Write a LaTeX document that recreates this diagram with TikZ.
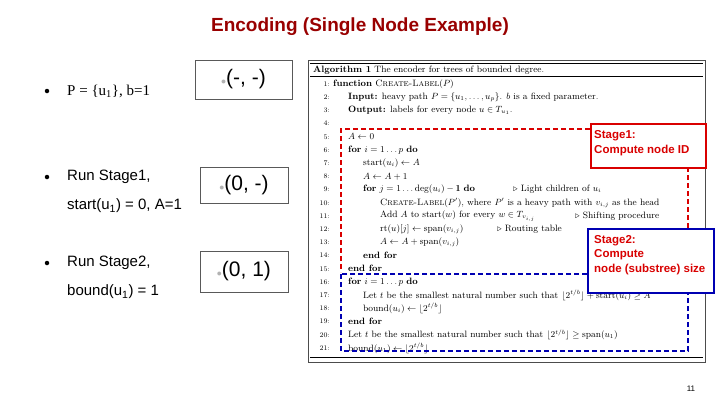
\documentclass[tikz,border=0pt]{standalone}
\usepackage{amsmath,amssymb}
\usepackage{fontspec}
\newfontfamily\arial{Liberation Sans}
\newfontfamily\timesfnt{Liberation Serif}
\begin{document}
\begin{tikzpicture}[x=1pt,y=-1pt,
  alg/.style={anchor=west,inner sep=0pt,font=\fontsize{9.2}{10}\selectfont},
  num/.style={anchor=east,inner sep=0pt,font=\fontsize{7}{8}\selectfont},
  lefttext/.style={anchor=west,inner sep=0pt,font=\arial\fontsize{15}{17}\selectfont},
  valbox/.style={draw=gray!70!black,line width=0.6pt,inner sep=0pt,font=\arial\fontsize{21}{23}\selectfont},
  bul/.style={circle,fill=black,inner sep=0pt,minimum size=4.5pt}]
\useasboundingbox (0,0) rectangle (720,405);
\fill[white] (0,0) rectangle (720,405);
\node[font=\arial\bfseries\fontsize{19}{22}\selectfont,text=red!60!black] (title) at (360,27) {Encoding (Single Node Example)};
% left bullets
\node[bul] (b1) at (47,91) {};
\node[bul] (b2) at (47,177) {};
\node[bul] (b3) at (47,263) {};
\node[lefttext,font=\timesfnt\fontsize{15}{17}\selectfont] (t1) at (67,91) {P = \{u\textsubscript{1}\}, b=1};
\node[lefttext] (t2) at (67,177) {Run Stage1,};
\node[lefttext] (t2b) at (67,206) {start(u\textsubscript{1}) = 0, A=1};
\node[lefttext] (t3) at (67,263) {Run Stage2,};
\node[lefttext] (t3b) at (67,292) {bound(u\textsubscript{1}) = 1};
\node[valbox,minimum width=97pt,minimum height=39pt] (v1) at (243.5,79.5) {{\color{gray!60}\fontsize{10}{10}\selectfont$\bullet$}(-, -)};
\node[valbox,minimum width=88pt,minimum height=36pt] (v2) at (244,185) {{\color{gray!60}\fontsize{10}{10}\selectfont$\bullet$}(0, -)};
\node[valbox,minimum width=88pt,minimum height=41pt] (v3) at (244,271.5) {{\color{gray!60}\fontsize{10}{10}\selectfont$\bullet$}(0, 1)};
% algorithm
\draw[gray!60!black,line width=0.7pt] (308,60) rectangle (705,362);
\draw[line width=0.6pt] (310,63) -- (703,63);
\draw[line width=0.4pt] (310,76) -- (703,76);
\draw[line width=0.4pt] (310,357) -- (703,357);
\node[alg] (h) at (313,70) {\textbf{Algorithm 1} The encoder for trees of bounded degree.};
\foreach \i in {1,...,21} \node[num] (n\i) at (330,{84+(\i-1)*13.2}) {\i:};
\node[alg] (l1) at (333,84) {\textbf{function} \textsc{Create-Label}$(P)$};
\node[alg] (l2) at (348,97.2) {\textbf{Input:} heavy path $P=\{u_1,\ldots,u_p\}$. $b$ is a fixed parameter.};
\node[alg] (l3) at (348,110.4) {\textbf{Output:} labels for every node $u\in T_{u_1}$.};
\node[alg] (l5) at (348,136.8) {$A\leftarrow 0$};
\node[alg] (l6) at (348,150) {\textbf{for} $i=1\ldots p$ \textbf{do}};
\node[alg] (l7) at (363,163.2) {$\mathrm{start}(u_i)\leftarrow A$};
\node[alg] (l8) at (363,176.4) {$A\leftarrow A+1$};
\node[alg] (l9) at (363,189.6) {\textbf{for} $j=1\ldots\deg(u_i)-\mathbf{1}$ \textbf{do}};
\node[alg] (c9) at (513,189.6) {$\triangleright$ Light children of $u_i$};
\node[alg] (l10) at (380,202.8) {\textsc{Create-Label}$(P')$, where $P'$ is a heavy path with $v_{i,j}$ as the head};
\node[alg] (l11) at (380,216) {Add $A$ to $\mathrm{start}(w)$ for every $w\in T_{v_{i,j}}$};
\node[alg] (c11) at (575,216) {$\triangleright$ Shifting procedure};
\node[alg] (l12) at (380,229.2) {$\mathrm{rt}(u)[j]\leftarrow\mathrm{span}(v_{i,j})$};
\node[alg] (c12) at (497,229.2) {$\triangleright$ Routing table};
\node[alg] (l13) at (380,242.4) {$A\leftarrow A+\mathrm{span}(v_{i,j})$};
\node[alg] (l14) at (363,255.6) {\textbf{end for}};
\node[alg] (l15) at (348,268.8) {\textbf{end for}};
\node[alg] (l16) at (348,282) {\textbf{for} $i=1\ldots p$ \textbf{do}};
\node[alg] (l17) at (363,295.2) {Let $t$ be the smallest natural number such that $\lfloor 2^{t/b}\rfloor+\mathrm{start}(u_i)\ge A$};
\node[alg] (l18) at (363,308.4) {$\mathrm{bound}(u_i)\leftarrow\lfloor 2^{t/b}\rfloor$};
\node[alg] (l19) at (348,321.6) {\textbf{end for}};
\node[alg] (l20) at (348,334.8) {Let $t$ be the smallest natural number such that $\lfloor 2^{t/b}\rfloor\ge\mathrm{span}(u_1)$};
\node[alg] (l21) at (348,348) {$\mathrm{bound}(u_1)\leftarrow\lfloor 2^{t/b}\rfloor$};
% stage boxes
\draw[red!85!black,line width=2.2pt,dash pattern=on 5pt off 3pt] (688,167) -- (688,237) (590,129) -- (341,129) -- (341,272);
\draw[blue!70!black,line width=2.2pt,dash pattern=on 5pt off 3pt] (341,274) -- (341,351) -- (688,351) -- (688,292) (587,274) -- (341,274);
\node[draw=red!85!black,line width=2pt,fill=white,anchor=north west,minimum width=115pt,minimum height=44pt,inner sep=0pt] (s1) at (590,123) {};
\node[anchor=north west,align=left,inner sep=0pt,text=red!85!black,font=\arial\bfseries\fontsize{11.5}{15}\selectfont] (s1t) at (594,130) {Stage1:\\Compute node ID};
\node[draw=blue!70!black,line width=2pt,fill=white,anchor=north west,minimum width=126pt,minimum height=64pt,inner sep=0pt] (s2) at (587,228) {};
\node[anchor=north west,align=left,inner sep=0pt,text=red!85!black,font=\arial\bfseries\fontsize{11.5}{14.5}\selectfont] (s2t) at (594,235) {Stage2:\\Compute\\node (substree) size};
\node[font=\arial\fontsize{8}{9}\selectfont] (pg) at (691,389) {11};
\end{tikzpicture}
\end{document}
